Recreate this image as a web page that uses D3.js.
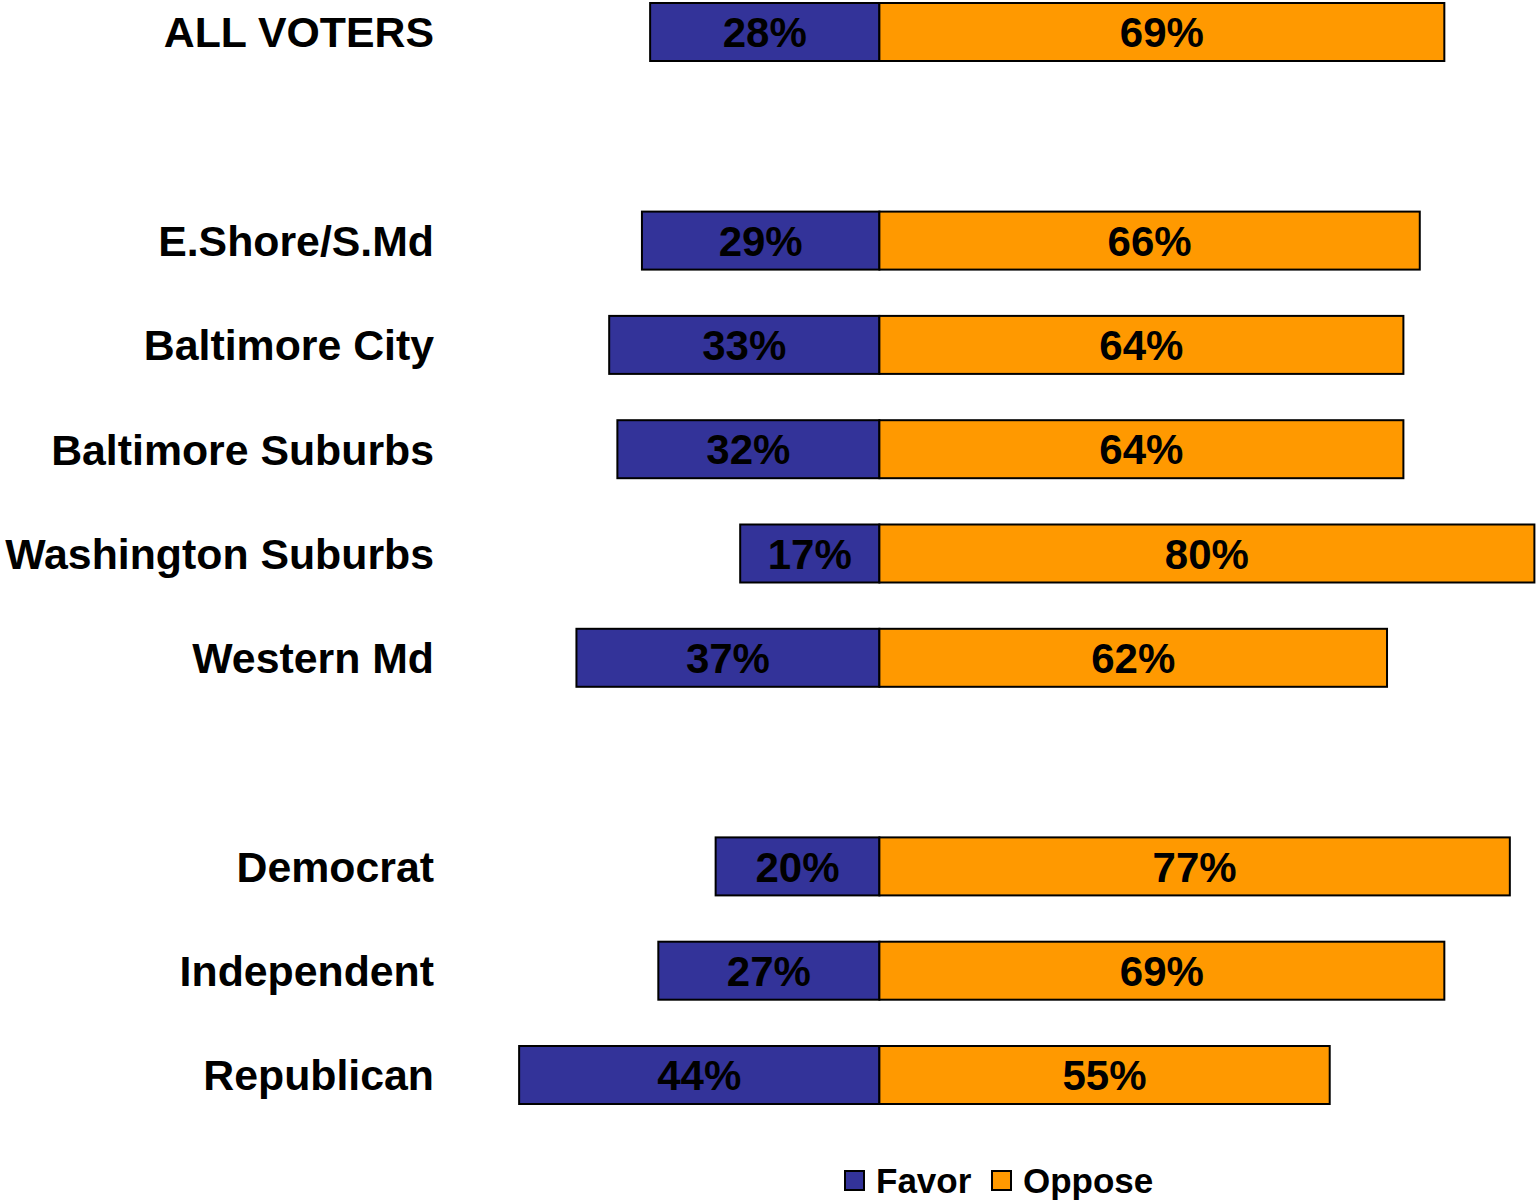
<!DOCTYPE html>
<html>
<head>
<meta charset="utf-8">
<script src="https://cdn.jsdelivr.net/npm/d3@7"></script>
<style>
  body { margin: 0; background: #fff; }
  text { font-family: "Liberation Sans", Arial, sans-serif; font-weight: bold; }
</style>
</head>
<body>
<script>
// groups of categories (a blank slot is left between groups)
var groups = [
    ["ALL VOTERS"],
    ["E.Shore/S.Md", "Baltimore City", "Baltimore Suburbs", "Washington Suburbs", "Western Md"],
    ["Democrat", "Independent", "Republican"]
];
var favor  = [28, 29, 33, 32, 17, 37, 20, 27, 44];
var oppose = [69, 66, 64, 64, 80, 62, 77, 69, 55];
var seriesNames = ["Favor", "Oppose"];
var colors = ["#333399", "#FF9900"];

window.onload = function(){
    drawChart();
};

function drawChart(){
    var svg = d3.select("body").append("svg").attr("width", 1537).attr("height", 1201);

    // build slot list with spacers between groups
    var slots = [];
    var categories = [];
    groups.forEach(function(g, i){
        if (i > 0) slots.push("gap" + i);
        g.forEach(function(c){ slots.push(c); categories.push(c); });
    });

    var data = categories.map(function(c, i){
        return {name: c, favor: favor[i], oppose: oppose[i]};
    });

    var yScale = d3.scalePoint()
        .domain(slots)
        .range([32, 1075]);

    var xScale = d3.scaleLinear()     // favor to the left of center, oppose to the right
        .domain([-50, 80])
        .range([880 - 50 * 8.2, 880 + 80 * 8.18]);

    var barH = 58;

    var rows = svg.selectAll(".row")
        .data(data)
        .enter()
        .append("g")
        .attr("class", "row")
        .attr("transform", function(d){ return "translate(0," + yScale(d.name) + ")"; });

    // favor bars
    rows.append("rect")
        .attr("x", function(d){ return xScale(-d.favor); })
        .attr("y", -barH / 2)
        .attr("width", function(d){ return xScale(0) - xScale(-d.favor); })
        .attr("height", barH)
        .attr("fill", colors[0])
        .attr("stroke", "#000")
        .attr("stroke-width", 2);

    // oppose bars
    rows.append("rect")
        .attr("x", xScale(0))
        .attr("y", -barH / 2)
        .attr("width", function(d){ return xScale(d.oppose) - xScale(0); })
        .attr("height", barH)
        .attr("fill", colors[1])
        .attr("stroke", "#000")
        .attr("stroke-width", 2);

    // value labels
    rows.append("text")
        .attr("x", function(d){ return (xScale(-d.favor) + xScale(0)) / 2; })
        .attr("dy", "0.36em")
        .attr("text-anchor", "middle")
        .style("font-size", "42px")
        .text(function(d){ return d.favor + "%"; });

    rows.append("text")
        .attr("x", function(d){ return (xScale(d.oppose) + xScale(0)) / 2; })
        .attr("dy", "0.36em")
        .attr("text-anchor", "middle")
        .style("font-size", "42px")
        .text(function(d){ return d.oppose + "%"; });

    // category labels
    rows.append("text")
        .attr("x", 434)
        .attr("dy", "0.36em")
        .attr("text-anchor", "end")
        .style("font-size", "42.8px")
        .text(function(d){ return d.name; });

    // legend
    var legend = svg.append("g").attr("transform", "translate(845,1171)");
    var legendX = [0, 147];
    seriesNames.forEach(function(s, i){
        legend.append("rect")
            .attr("x", legendX[i])
            .attr("y", 0)
            .attr("width", 19)
            .attr("height", 19)
            .attr("fill", colors[i])
            .attr("stroke", "#000")
            .attr("stroke-width", 2);
        legend.append("text")
            .attr("x", legendX[i] + 31)
            .attr("y", 22)
            .style("font-size", "35px")
            .text(s);
    });
}
</script>
</body>
</html>
